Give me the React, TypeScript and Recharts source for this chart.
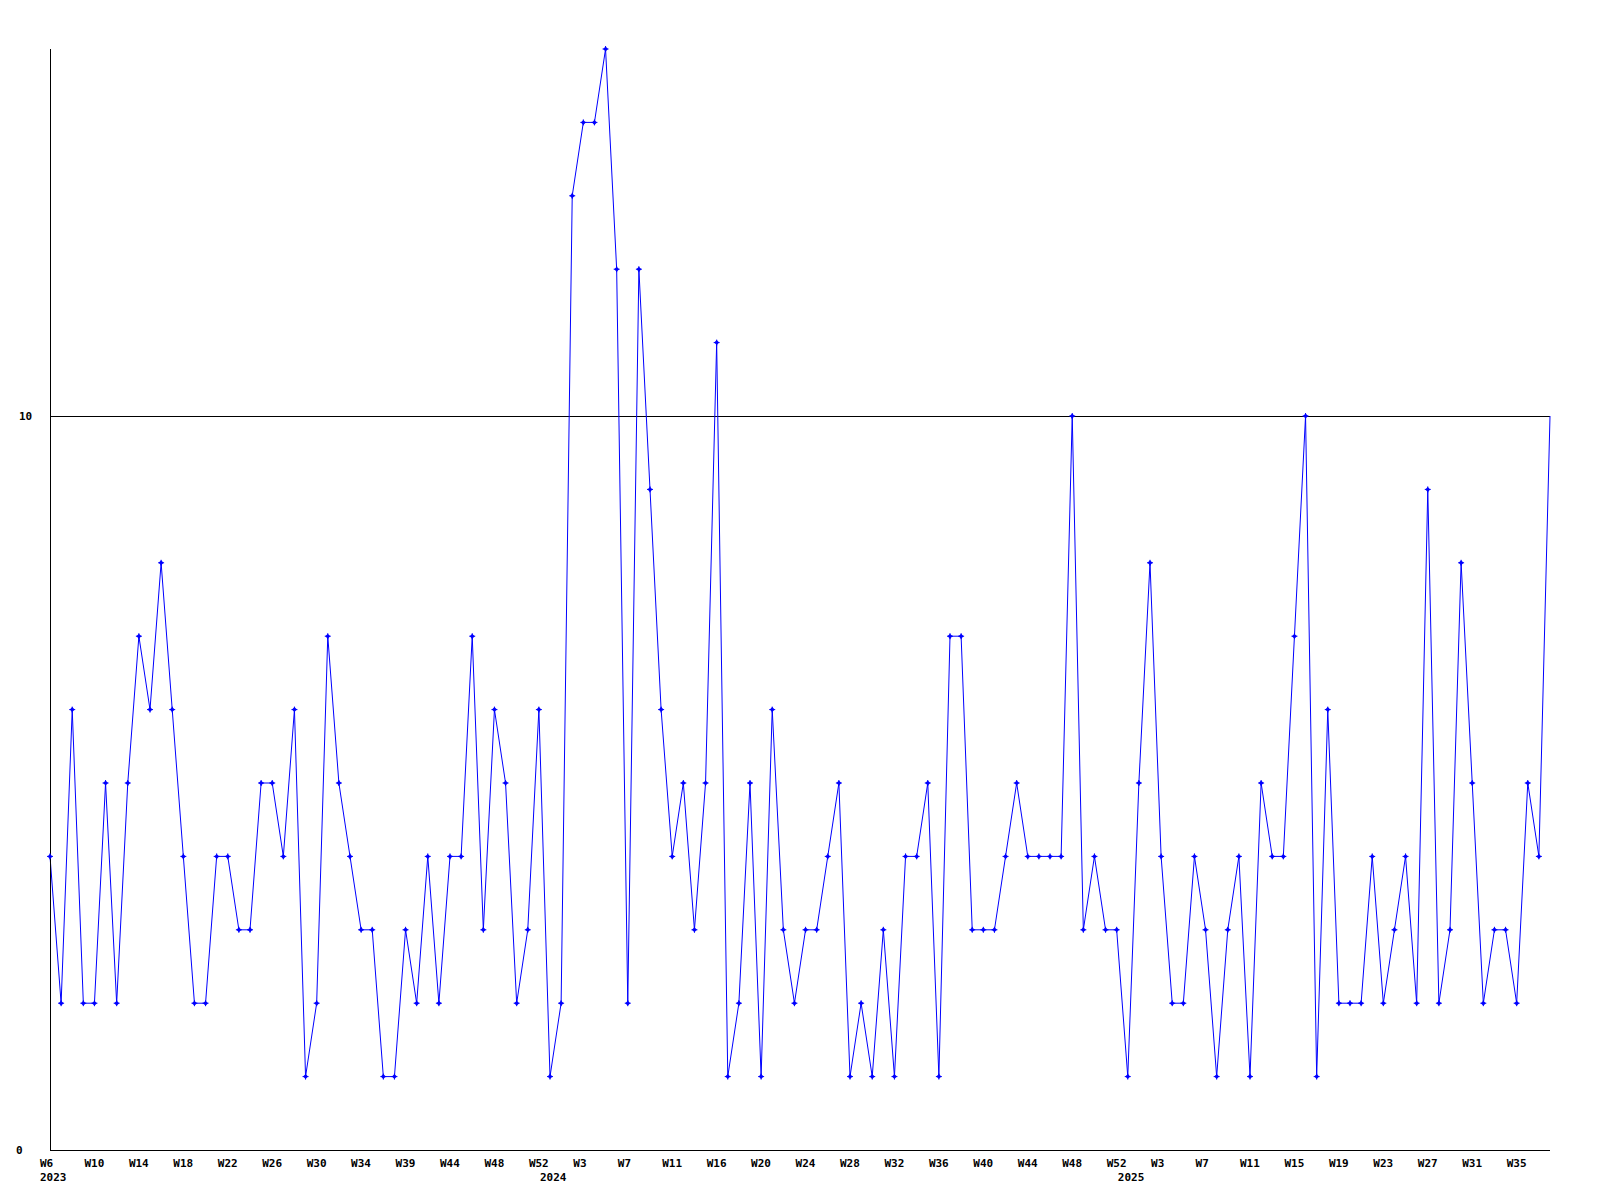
import React from 'react';
import { LineChart, Line, XAxis, YAxis, ReferenceLine } from 'recharts';

// weekly counts, 136 points (2023 W6 .. 2025 W36ish)
const values = [
  4, 2, 6, 2, 2, 5, 2, 5, 7, 6, 8, 6, 4, 2, 2, 4, 4, 3, 3, 5,
  5, 4, 6, 1, 2, 7, 5, 4, 3, 3, 1, 1, 3, 2, 4, 2, 4, 4, 7, 3,
  6, 5, 2, 3, 6, 1, 2, 13, 14, 14, 15, 12, 2, 12, 9, 6, 4, 5, 3, 5,
  11, 1, 2, 5, 1, 6, 3, 2, 3, 3, 4, 5, 1, 2, 1, 3, 1, 4, 4, 5,
  1, 7, 7, 3, 3, 3, 4, 5, 4, 4, 4, 4, 10, 3, 4, 3, 3, 1, 5, 8,
  4, 2, 2, 4, 3, 1, 3, 4, 1, 5, 4, 4, 7, 10, 1, 6, 2, 2, 2, 4,
  2, 3, 4, 2, 9, 2, 3, 8, 5, 2, 3, 3, 2, 5, 4, 10,
];

// a week label on every 4th point
const weekLabels = [
  'W6', 'W10', 'W14', 'W18', 'W22', 'W26', 'W30', 'W34', 'W39', 'W44',
  'W48', 'W52', 'W3', 'W7', 'W11', 'W16', 'W20', 'W24', 'W28', 'W32',
  'W36', 'W40', 'W44', 'W48', 'W52', 'W3', 'W7', 'W11', 'W15', 'W19',
  'W23', 'W27', 'W31', 'W35',
];
const weekStep = 4;

// first point of each year
const yearIdx = [0, 45, 97];
const years = ['2023', '2024', '2025'];

const yTicks = [0, 10];

const data = values.map((v, i) => ({ i, v }));

const weekIdx = weekLabels.map((_, k) => k * weekStep);
const tickIdx = Array.from(new Set([...weekIdx, ...yearIdx])).sort((a, b) => a - b);

const FONT = '"DejaVu Sans Mono", monospace';

const XTick = (props: any) => {
  const { x, payload } = props;
  const i = payload.value as number;
  const w = weekIdx.indexOf(i);
  const yr = yearIdx.indexOf(i);
  return (
    <g>
      {w >= 0 && (
        <text x={x - 10} y={1167} fontFamily={FONT} fontSize={11} fontWeight="bold" fill="#000">
          {weekLabels[w]}
        </text>
      )}
      {yr >= 0 && (
        <text x={x - 10} y={1181} fontFamily={FONT} fontSize={11} fontWeight="bold" fill="#000">
          {years[yr]}
        </text>
      )}
    </g>
  );
};

const YTick = (props: any) => {
  const { y, payload } = props;
  return (
    <text x={payload.value === 0 ? 16 : 19} y={y + 4} fontFamily={FONT} fontSize={11} fontWeight="bold" fill="#000">
      {payload.value}
    </text>
  );
};

// small blue "+" marker; the last point has none
const Marker = (props: any) => {
  const { cx, cy, index } = props;
  if (cx == null || cy == null || index === values.length - 1) return <g key={`m-${index}`} />;
  return (
    <g key={`m-${index}`}>
      <path
        d={`M${cx - 2.5},${cy} L${cx},${cy - 2.5} L${cx + 2.5},${cy} L${cx},${cy + 2.5} Z`}
        fill="#0000ff"
      />
      <path d={`M${cx - 3},${cy} H${cx + 3} M${cx},${cy - 3} V${cy + 3}`} stroke="#0000ff" strokeWidth={1} />
    </g>
  );
};

export default function App() {
  return (
    <div style={{ position: 'absolute', left: 0, top: 0, background: '#fff' }}>
      <LineChart width={1600} height={1200} data={data} margin={{ top: 49, right: 50, bottom: 0, left: 0 }}>
        <XAxis
          dataKey="i"
          type="category"
          height={50}
          ticks={tickIdx}
          interval={0}
          tick={<XTick />}
          tickLine={false}
          axisLine={{ stroke: '#000', shapeRendering: 'crispEdges' }}
        />
        <YAxis
          width={50}
          domain={[0, 15]}
          ticks={yTicks}
          tick={<YTick />}
          tickLine={false}
          axisLine={{ stroke: '#000', shapeRendering: 'crispEdges' }}
        />
        <ReferenceLine y={10} stroke="#000" strokeWidth={1} shapeRendering="crispEdges" />
        <Line
          type="linear"
          dataKey="v"
          stroke="#0000ff"
          strokeWidth={1}
          dot={<Marker />}
          activeDot={false}
          isAnimationActive={false}
        />
      </LineChart>
    </div>
  );
}
